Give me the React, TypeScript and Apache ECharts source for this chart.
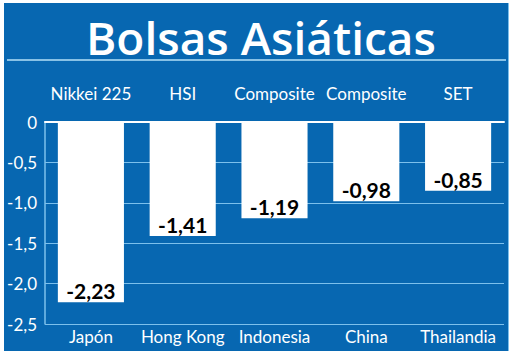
import React, { useEffect, useRef } from "react";
import * as echarts from "echarts";

const countries = ["Japón", "Hong Kong", "Indonesia", "China", "Thailandia"];
const indices = ["Nikkei 225", "HSI", "Composite", "Composite", "SET"];
const changes = [-2.23, -1.41, -1.19, -0.98, -0.85];
const title = "Bolsas Asiáticas";

const BLUE = "#0767b1";
const LIGHT = "#7cc0ec";
const FONT = "Lato";

export default function App() {
  const ref = useRef<HTMLDivElement>(null);
  useEffect(() => {
    if (!ref.current) return;
    const chart = echarts.init(ref.current, null, { renderer: "svg" });
    chart.setOption({
      animation: false,
      backgroundColor: "#ffffff",
      graphic: [
        { type: "rect", z: -10, shape: { x: 4, y: 3, width: 504, height: 348 }, style: { fill: BLUE } },
        { type: "line", z: -9, shape: { x1: 508.5, y1: 3, x2: 508.5, y2: 351 }, style: { stroke: LIGHT, lineWidth: 1 } },
        { type: "line", z: -9, shape: { x1: 7, y1: 60, x2: 506, y2: 60 }, style: { stroke: "#b5e0f8", lineWidth: 1.5 } },
        {
          type: "text",
          x: 261,
          y: 37,
          style: {
            text: title,
            fill: "#ffffff",
            font: `600 46px "Open Sans"`,
            textAlign: "center",
            textVerticalAlign: "middle",
          },
        },
      ],
      grid: { left: 45, right: 16, top: 122, bottom: 30, containLabel: false },
      xAxis: [
        {
          type: "category",
          data: countries,
          position: "bottom",
          axisLine: { show: false },
          axisTick: { show: false },
          axisLabel: { color: "#ffffff", fontFamily: FONT, fontSize: 17, margin: 4, interval: 0 },
        },
        {
          type: "category",
          data: indices,
          position: "top",
          axisLine: { show: true, lineStyle: { color: "#ffffff", width: 2 } },
          axisTick: { show: false },
          axisLabel: { color: "#ffffff", fontFamily: FONT, fontSize: 17, margin: 20, interval: 0 },
        },
      ],
      yAxis: {
        type: "value",
        min: -2.5,
        max: 0,
        interval: 0.5,
        axisLine: { show: true, lineStyle: { color: LIGHT, width: 1.5 } },
        axisTick: { show: false },
        splitLine: { show: true, lineStyle: { color: LIGHT, width: 1 } },
        axisLabel: {
          color: "#ffffff",
          fontFamily: FONT,
          fontSize: 17,
          margin: 8,
          formatter: (v: number) => (v === 0 ? "0" : v.toFixed(1).replace(".", ",")),
        },
      },
      series: [
        {
          type: "bar",
          data: changes,
          xAxisIndex: 0,
          barWidth: "72%",
          itemStyle: { color: "#ffffff" },
          z: 3,
          label: {
            show: true,
            position: "insideBottom",
            distance: 1,
            color: "#000000",
            fontFamily: FONT,
            fontWeight: "bold",
            fontSize: 21,
            formatter: (p: any) => (p.value as number).toFixed(2).replace(".", ","),
          },
        },
      ],
    });
    return () => chart.dispose();
  }, []);
  return (
    <div
      ref={ref}
      style={{ position: "fixed", left: 0, top: 0, width: 520, height: 354 }}
    />
  );
}
